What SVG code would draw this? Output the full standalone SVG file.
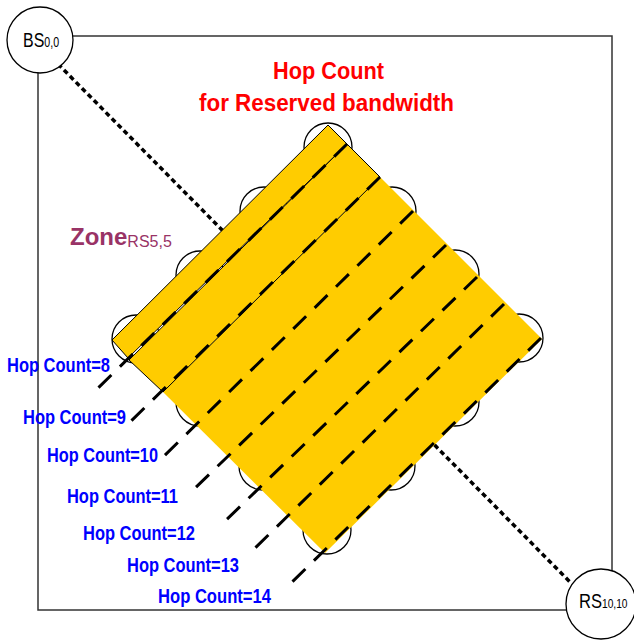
<svg xmlns="http://www.w3.org/2000/svg" width="634" height="641" viewBox="0 0 634 641">
<style>
text{font-family:"Liberation Sans",Arial,sans-serif}
.node{fill:#fff;stroke:#000;stroke-width:1.3}
.hop{fill:none;stroke:#000;stroke-width:3;stroke-dasharray:18 12}
.lbl{fill:#0000ff;font-size:20px;font-weight:bold}
.strip{fill:#ffcc00;stroke:#000;stroke-width:1}
</style>
<rect width="634" height="641" fill="#fff"/>
<rect id="area" x="38" y="36" width="574" height="574" fill="none" stroke="#333" stroke-width="1.5"/>
<g id="connectors">
<line x1="58" y1="64" x2="570" y2="582" stroke="#000" stroke-width="3.5" stroke-dasharray="5 3.5"/>
</g>
<g id="zone-nodes">
<circle class="node" cx="328" cy="147" r="24"/>
<circle class="node" cx="519" cy="338" r="24"/>
<circle class="node" cx="327" cy="530" r="24"/>
<circle class="node" cx="136" cy="339" r="24"/>
<circle class="node" cx="200" cy="275" r="24"/>
<circle class="node" cx="264" cy="211" r="24"/>
<circle class="node" cx="392" cy="211" r="24"/>
<circle class="node" cx="455" cy="274" r="24"/>
<circle class="node" cx="455" cy="402" r="24"/>
<circle class="node" cx="391" cy="466" r="24"/>
<circle class="node" cx="263" cy="466" r="24"/>
<circle class="node" cx="200" cy="402" r="24"/>
</g>
<g id="zone">
<polygon points="163,392 380,177 542,339 325,553" fill="#ffcc00"/>
<polygon class="strip" points="129,360 347,144 380,177 163,392"/>
<polygon class="strip" points="112,340 328,125 347,144 128,358"/>
</g>
<g id="hop-lines">
<path class="hop" d="M347,144 L92,394"/>
<path class="hop" d="M380,177 L125,427"/>
<path class="hop" d="M413,211 L158,462"/>
<path class="hop" d="M446,245 L190,493"/>
<path class="hop" d="M477,277 L220,526"/>
<path class="hop" d="M504,304 L248,555"/>
<path class="hop" d="M541,338 L285,589"/>
</g>
<g id="hop-labels">
<text class="lbl" x="7" y="372" textLength="103" lengthAdjust="spacingAndGlyphs">Hop Count=8</text>
<text class="lbl" x="23" y="424" textLength="103" lengthAdjust="spacingAndGlyphs">Hop Count=9</text>
<text class="lbl" x="47" y="462" textLength="111" lengthAdjust="spacingAndGlyphs">Hop Count=10</text>
<text class="lbl" x="67" y="503" textLength="111" lengthAdjust="spacingAndGlyphs">Hop Count=11</text>
<text class="lbl" x="83" y="540" textLength="112" lengthAdjust="spacingAndGlyphs">Hop Count=12</text>
<text class="lbl" x="127" y="572" textLength="112" lengthAdjust="spacingAndGlyphs">Hop Count=13</text>
<text class="lbl" x="158" y="603" textLength="113" lengthAdjust="spacingAndGlyphs">Hop Count=14</text>
</g>
<g id="title" fill="#ff0000" font-weight="bold" font-size="23">
<text x="273" y="79" textLength="111" lengthAdjust="spacingAndGlyphs">Hop Count</text>
<text x="199" y="111" textLength="255" lengthAdjust="spacingAndGlyphs">for Reserved bandwidth</text>
</g>
<g id="zone-label" fill="#993366">
<text x="70" y="245"><tspan font-size="24" font-weight="bold">Zone</tspan><tspan font-size="16" dy="2">RS5,5</tspan></text>
</g>
<g id="bs">
<circle class="node" cx="40" cy="40" r="33"/>
<text transform="translate(23,47) scale(0.76,1)"><tspan font-size="21">BS</tspan><tspan font-size="14">0,0</tspan></text>
</g>
<g id="rs">
<circle class="node" cx="601" cy="604" r="35"/>
<text transform="translate(579,608) scale(0.85,1)"><tspan font-size="19.5">RS</tspan><tspan font-size="12">10,10</tspan></text>
</g>
</svg>
